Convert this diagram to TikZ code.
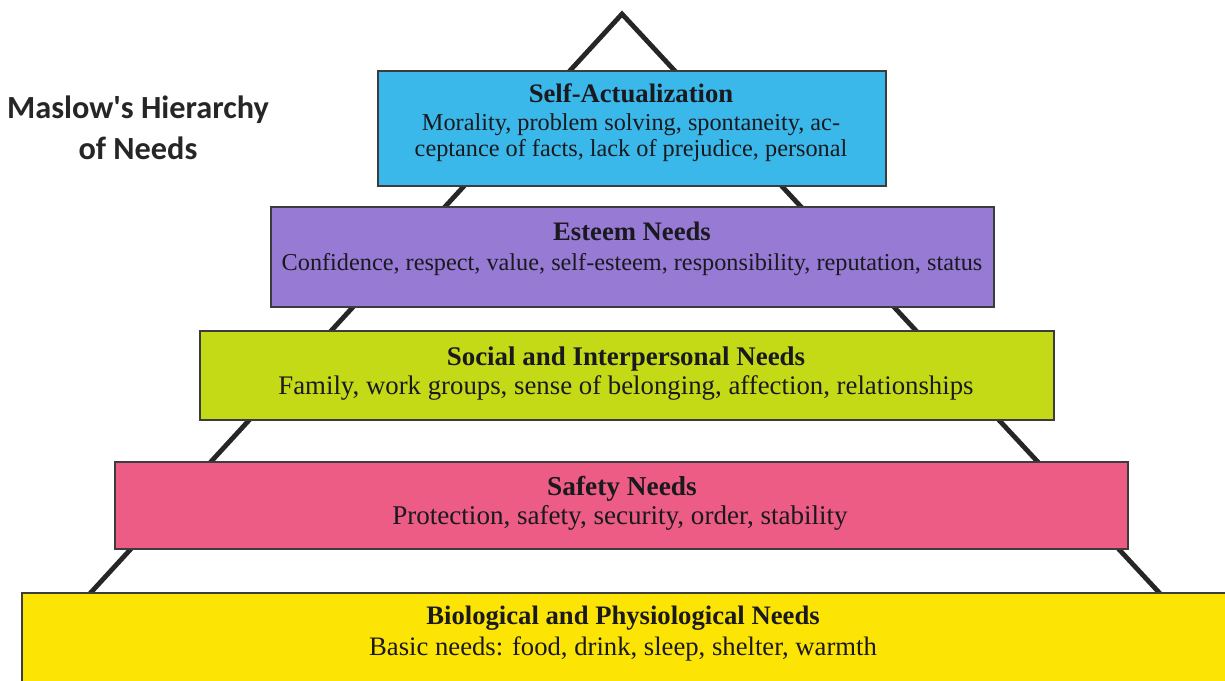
\documentclass[tikz,border=0pt]{standalone}
\usepackage{fontspec}
\setmainfont{Liberation Serif}
\newfontfamily\titlefont{Carlito}
\definecolor{cyanbox}{RGB}{58,184,234}
\definecolor{purplebox}{RGB}{150,122,212}
\definecolor{greenbox}{RGB}{196,218,22}
\definecolor{pinkbox}{RGB}{236,92,132}
\definecolor{yellowbox}{RGB}{252,228,4}
\definecolor{edge}{RGB}{60,60,60}
\definecolor{ink}{RGB}{25,25,30}
\begin{document}
\begin{tikzpicture}[x=0.75pt,y=-0.75pt,
  level/.style={draw=edge,line width=1.5pt,inner sep=0pt,anchor=north west},
  line/.style={anchor=base,inner sep=0pt,text=ink},
  tri/.style={line width=3.6pt,draw=black!85,line join=miter}]
\useasboundingbox (0,0) rectangle (1225,681);
\clip (0,0) rectangle (1225,681);
\fill[white] (0,0) rectangle (1225,681);
% pyramid outline
\coordinate (apex) at (622,14);
\coordinate (bl) at (84,600);
\coordinate (br) at (1166,600);
\draw[tri] (bl) -- (apex) -- (br);
% levels
\node[level,fill=cyanbox,minimum width=508*0.75pt,minimum height=115*0.75pt] (self) at (377,70) {};
\node[level,fill=purplebox,minimum width=723*0.75pt,minimum height=100*0.75pt] (esteem) at (270,206) {};
\node[level,fill=greenbox,minimum width=854*0.75pt,minimum height=89*0.75pt] (social) at (199,330) {};
\node[level,fill=pinkbox,minimum width=1013*0.75pt,minimum height=87*0.75pt] (safety) at (114,461) {};
\node[level,fill=yellowbox,minimum width=1220*0.75pt,minimum height=100*0.75pt] (bio) at (21,592) {};
% texts
\node[line,font=\bfseries\fontsize{20}{24}\selectfont] (selft) at (631,103) {Self-Actualization};
\node[line,font=\fontsize{18.2}{22}\selectfont] (selfb1) at (631,131) {Morality, problem solving, spontaneity, ac-};
\node[line,font=\fontsize{18.2}{22}\selectfont] (selfb2) at (631,157) {ceptance of facts, lack of prejudice, personal};
\node[line,font=\bfseries\fontsize{20}{24}\selectfont] (esteemt) at (632,241) {Esteem Needs};
\node[line,font=\fontsize{18.2}{22}\selectfont] (esteemb) at (632,270) {Confidence, respect, value, self-esteem, responsibility, reputation, status};
\node[line,font=\bfseries\fontsize{20.2}{24}\selectfont] (socialt) at (626,365) {Social and Interpersonal Needs};
\node[line,font=\fontsize{20.1}{24}\selectfont] (socialb) at (626,394) {Family, work groups, sense of belonging, affection, relationships};
\node[line,font=\bfseries\fontsize{20.5}{24}\selectfont] (safetyt) at (622,495) {Safety Needs};
\node[line,font=\fontsize{20.3}{24}\selectfont] (safetyb) at (620,524) {Protection, safety, security, order, stability};
\node[line,font=\bfseries\fontsize{20}{24}\selectfont] (biot) at (623,624) {Biological and Physiological Needs};
\node[line,font=\fontsize{20}{24}\selectfont] (biob) at (623,655) {Basic needs: food, drink, sleep, shelter, warmth};
% title
\node[line,font=\titlefont\bfseries\fontsize{24.2}{30}\selectfont,text=black!85] (title1) at (138,119) {Maslow's Hierarchy};
\node[line,font=\titlefont\bfseries\fontsize{24.2}{30}\selectfont,text=black!85] (title2) at (138,160) {of Needs};
\end{tikzpicture}
\end{document}
